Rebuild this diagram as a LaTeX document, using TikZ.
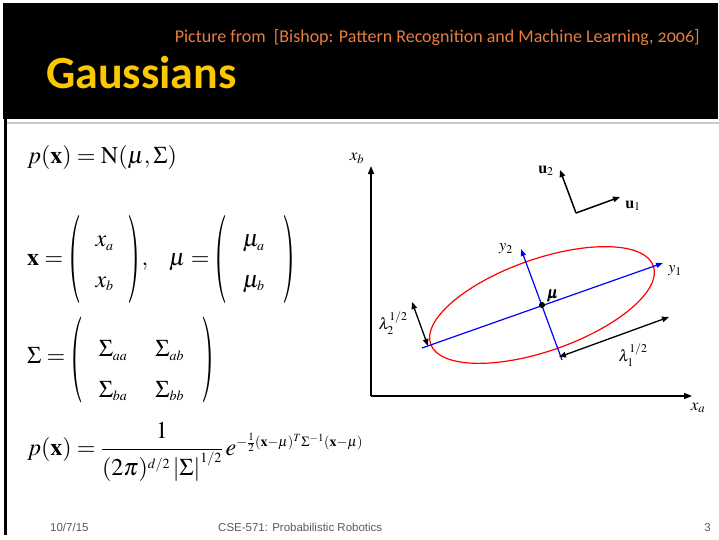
\documentclass[tikz,border=0pt]{standalone}
\usepackage{amsmath}
\usepackage{mathptmx}
\usepackage{graphicx}
\usepackage[no-math]{fontspec}
\usetikzlibrary{arrows.meta}
\DeclareMathSizes{24}{24}{14}{11}
\newfontfamily\calibri{Carlito}[Numbers=OldStyle]
\newfontfamily\arialf{Liberation Sans}
\newcommand\tpl[2]{\mathopen{\raisebox{#2}{\scalebox{1.4}[#1]{$($}}}}
\newcommand\tpr[2]{\mathclose{\raisebox{#2}{\scalebox{1.4}[#1]{$)$}}}}
\definecolor{hdrorange}{RGB}{232,125,62}
\definecolor{titlegold}{RGB}{250,200,0}
\definecolor{footgray}{RGB}{90,90,90}
\definecolor{rulegray}{RGB}{200,200,200}
\tikzset{
  formula/.style={anchor=base west, inner sep=0pt, font=\fontsize{24}{28.8}\selectfont},
  axisline/.style={line width=1.5pt, -{Triangle[length=8pt,width=6pt]}},
  vecline/.style={line width=1.5pt, -{Triangle[length=7pt,width=5.5pt]}},
  lamline/.style={line width=1.3pt, {Triangle[length=7pt,width=5.5pt]}-{Triangle[length=7pt,width=5.5pt]}},
  blueaxis/.style={blue, line width=1.2pt},
  lbl/.style={inner sep=0pt, font=\fontsize{16}{18}\selectfont},
  axlbl/.style={inner sep=0pt, font=\fontsize{17}{19}\selectfont},
  foot/.style={anchor=base west, inner sep=0pt, text=footgray, font=\arialf\fontsize{11.5}{13}\selectfont}
}
\begin{document}
\begin{tikzpicture}[x=1pt,y=-1pt]
\useasboundingbox (0,0) rectangle (719,539);
% slide frame
\fill[black] (3,3) rectangle (718,119);
\fill[black] (4,119) rectangle (6.5,535);
\draw[rulegray, line width=1.2pt] (7,123) -- (719,123);
% header
\node[anchor=base east, inner sep=0pt, text=hdrorange, font=\calibri\fontsize{18}{21}\selectfont] (src) at (700,42) {Picture from\ \ [Bishop: Pattern Recognition and Machine Learning, 2006]};
\node[anchor=base west, inner sep=0pt, text=titlegold, font=\calibri\bfseries\fontsize{46}{50}\selectfont] (title) at (46,88) {Gaussians};
% formulas
\node[formula] (f1) at (27,163) {$p(\mathbf{x})=\mathrm{N}(\mu,\Sigma)$};
\node[formula] (f2) at (27,265) {\renewcommand\arraystretch{1.4}$\mathbf{x}=\tpl{3.67}{-16pt}\hspace{14pt}\begin{array}{@{}c@{}}x_a\\ x_b\end{array}\hspace{14pt}\tpr{3.67}{-16pt}\hspace{1pt},\hspace{18pt}\mu=\tpl{3.67}{-16pt}\hspace{15pt}\begin{array}{@{}c@{}}\mu_a\\ \mu_b\end{array}\hspace{18pt}\tpr{3.67}{-16pt}$};
\node[formula] (f3) at (27,363) {\renewcommand\arraystretch{1.4}$\Sigma=\tpl{3.58}{-18.5pt}\hspace{15pt}\raisebox{-12pt}{$\begin{array}{@{}c@{\hspace{28pt}}c@{}}\Sigma_{aa} & \Sigma_{ab}\\ \Sigma_{ba} & \Sigma_{bb}\end{array}$}\hspace{17pt}\tpr{3.58}{-18.5pt}$};
\node[formula] (f4) at (27,455) {$p(\mathbf{x})=\dfrac{1}{(2\pi)^{d/2}\left|\Sigma\right|^{1/2}}\,e^{-\frac{1}{2}(\mathbf{x}-\mu)^T\Sigma^{-1}(\mathbf{x}-\mu)}$};
% diagram coordinates
\coordinate (O) at (371,396);
\coordinate (xbtip) at (371,166);
\coordinate (xatip) at (692,396);
\coordinate (C) at (576,213);
\coordinate (u1tip) at (620,197);
\coordinate (u2tip) at (560,170);
\coordinate (mu) at (542,305);
\coordinate (y1s) at (422,348);
\coordinate (y1t) at (663,263);
\coordinate (y2s) at (562,360);
\coordinate (y2t) at (521,249);
\coordinate (l2a) at (412,302);
\coordinate (l2b) at (428,346);
\coordinate (l1a) at (559,357);
\coordinate (l1b) at (669,317);
% axes
\draw[axisline] (O) -- (xbtip);
\draw[axisline] (O) -- (xatip);
\node[axlbl] (xb) at (357,158) {$x_b$};
\node[axlbl] (xa) at (698,408) {$x_a$};
% eigenvectors
\draw[vecline] (C) -- (u1tip);
\draw[vecline] (C) -- (u2tip);
\node[lbl] (u2l) at (546,171) {$\mathbf{u}_2$};
\node[lbl] (u1l) at (633,206) {$\mathbf{u}_1$};
% ellipse
\draw[red, line width=1.2pt] (mu) ellipse [x radius=118pt, y radius=46pt, rotate=19.3];
\draw[blueaxis, -{Triangle[length=7pt,width=5pt]}] (y1s) -- (y1t);
\draw[blueaxis, -{Triangle[length=7pt,width=5pt]}] (y2s) -- (y2t);
\node[lbl] (y1l) at (675,271) {$y_1$};
\node[lbl] (y2l) at (506,249) {$y_2$};
\fill[black] (mu) circle (3pt);
\node[lbl] (mul) at (553,296) {$\pmb{\mu}$};
% lambda arrows
\draw[lamline] (l2a) -- (l2b);
\draw[lamline] (l1a) -- (l1b);
\node[lbl] (lam2) at (393,323) {$\lambda_2^{1/2}$};
\node[lbl] (lam1) at (633,355) {$\lambda_1^{1/2}$};
% footer
\node[foot] (date) at (50,531) {10/7/15};
\node[foot] (course) at (218,531) {CSE-571: Probabilistic Robotics};
\node[foot, anchor=base east] (page) at (711,531) {3};
\end{tikzpicture}
\end{document}
